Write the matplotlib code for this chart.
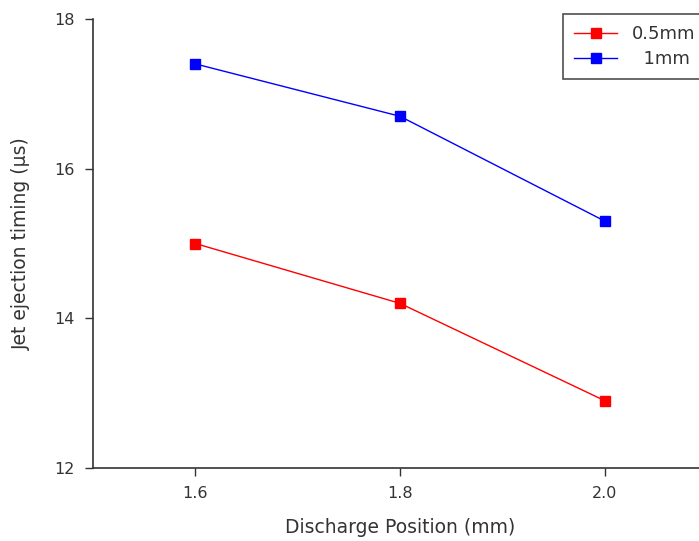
import matplotlib
matplotlib.use('Agg')
from matplotlib import pyplot

position = [1.6, 1.8, 2.0]
timing_05mm = [15.0, 14.2, 12.9]
timing_1mm = [17.4, 16.7, 15.3]

pyplot.rcParams['font.family'] = ['DejaVu Sans']

fig = pyplot.figure(figsize=(6.99, 5.41), dpi=100)
axis = fig.add_axes([93 / 699, 73 / 541, 614 / 699, 449 / 541])

axis.plot(position, timing_05mm, color='#ff0000', lw=1, marker='s', ms=7,
          label='0.5mm')
axis.plot(position, timing_1mm, color='#0000ff', lw=1, marker='s', ms=7,
          label='  1mm')

axis.set_xlim(1.5, 2.1)
axis.set_ylim(12, 18)
axis.set_xticks([1.6, 1.8, 2.0])
axis.set_xticklabels(['1.6', '1.8', '2.0'])
axis.set_yticks([12, 14, 16, 18])

for side in ('top', 'right'):
    axis.spines[side].set_visible(False)
for side in ('left', 'bottom'):
    axis.spines[side].set_color('#333333')
    axis.spines[side].set_linewidth(1.2)
axis.tick_params(direction='out', length=6, width=1, color='#333333',
                 labelcolor='#333333', labelsize=11.5, pad=7)

axis.set_xlabel('Discharge Position (mm)', fontsize=13.5, color='#333333',
                labelpad=12)
axis.set_ylabel('Jet ejection timing (\u03bcs)', fontsize=13.5, color='#333333',
                labelpad=17)

leg = fig.legend(loc='upper left', bbox_to_anchor=(563 / 699, 1 - 14 / 541),
                 fontsize=13, frameon=True, fancybox=False, handlelength=2.4,
                 handletextpad=0.8, borderpad=0.6, labelspacing=0.4,
                 borderaxespad=0)
leg.get_frame().set_edgecolor('#222222')
leg.get_frame().set_linewidth(1.2)
for text in leg.get_texts():
    text.set_color('#333333')

fig.savefig('out.png', dpi=100)
